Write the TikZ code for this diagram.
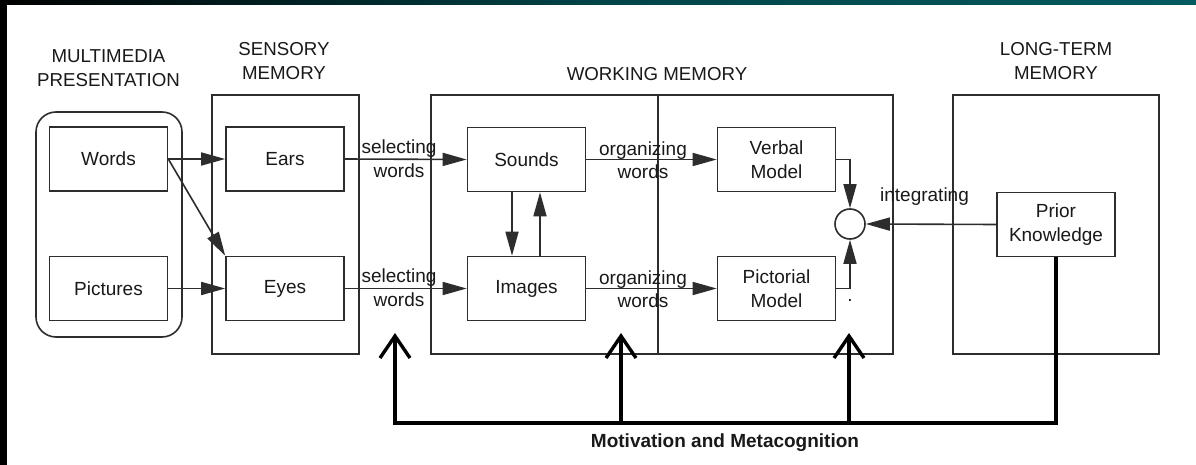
\documentclass[tikz,border=0pt]{standalone}
\usepackage{fontspec}
\setmainfont{Liberation Sans}
\usetikzlibrary{arrows.meta}
\definecolor{inkline}{RGB}{45,45,45}
\definecolor{inktext}{RGB}{25,25,25}
\definecolor{barteal}{RGB}{0,90,96}
\begin{document}
\begin{tikzpicture}[x=1pt,y=-1pt,
  every node/.style={text=inktext},
  boxtxt/.style={font=\fontsize{19}{23.5}\selectfont, align=center},
  head/.style={font=\fontsize{18.7}{24}\selectfont, align=center, inner sep=0},
  lbl/.style={font=\fontsize{19}{23.5}\selectfont, align=center, inner sep=0},
  box/.style={boxtxt, draw=inkline, line width=1.6pt, minimum width=118pt, minimum height=64pt, inner sep=0},
  frame/.style={draw=inkline, line width=1.6pt, inner sep=0},
  arr/.style={draw=inkline, line width=1.6pt, -{Triangle[length=24pt,width=13pt]}},
  fbline/.style={draw=black, line width=3.4pt, line join=miter},
  fbarr/.style={fbline, -{Straight Barb[length=22pt,width=30pt]}}
]
% canvas and slide edges
\fill[white] (0,0) rectangle (1196,465);
\useasboundingbox (0,0) rectangle (1196,465);
\shade[left color=black, right color=barteal, middle color=barteal!75!black] (0,0) rectangle (1196,5);
\fill[black] (0,0) rectangle (7,465);

% column headings
\node[head] (hmm)  at (108.5,68) {MULTIMEDIA\\PRESENTATION};
\node[head] (hsm)  at (284,61) {SENSORY\\MEMORY};
\node[head] (hwm)  at (657,74) {WORKING MEMORY};
\node[head] (hltm) at (1056,61) {LONG-TERM\\MEMORY};

% stores
\node[frame, rounded corners=20pt, minimum width=146pt, minimum height=225pt] (mmbox) at (109,224.5) {};
\node[frame, minimum width=147pt, minimum height=259pt] (smbox) at (285.5,224.5) {};
\node[frame, minimum width=462pt, minimum height=259pt] (wmbox) at (662,224.5) {};
\node[frame, minimum width=206pt, minimum height=259pt] (ltmbox) at (1056,224.5) {};
\draw[draw=inkline, line width=1.6pt] (wmbox.north -| 658,0) coordinate (wmtop) -- (wmbox.south -| 658,0) coordinate (wmbot);

% boxes
\node[box] (words)     at (108.5,159)   {Words};
\node[box] (pics)      at (108.5,288.5) {Pictures};
\node[box] (ears)      at (285,159)     {Ears};
\node[box] (eyes)      at (285,288.5)   {Eyes};
\node[box] (sounds)    at (526.5,159.5) {Sounds};
\node[box] (images)    at (526.5,288.5) {Images};
\node[box] (verbal)    at (776.5,159.5) {Verbal\\Model};
\node[box] (pictorial) at (776.5,288.5) {Pictorial\\Model};
\node[box] (prior)     at (1056,224.5)  {Prior\\Knowledge};
\node[circle, draw=inkline, line width=1.6pt, minimum size=30pt, inner sep=0] (join) at (850,224) {};

% sensory input
\draw[arr] (words.east) -- (ears.west);
\draw[arr] (words.east) -- (eyes.north west);
\draw[arr] (pics.east) -- (eyes.west);

% selecting and organizing
\draw[arr] (ears.east) -- (sounds.west);
\node[lbl] (sel1) at (399,158.5) {selecting\\words};
\draw[arr] (eyes.east) -- (images.west);
\node[lbl] (sel2) at (399,287.5) {selecting\\words};
\draw[arr] (sounds.east) -- (verbal.west);
\node[lbl] (org1) at (643,160) {organizing\\words};
\draw[arr] (images.east) -- (pictorial.west);
\node[lbl] (org2) at (643,289) {organizing\\words};

% exchange between sounds and images
\draw[arr] ([xshift=-14.5pt]sounds.south) -- ([xshift=-14.5pt]images.north);
\draw[arr] ([xshift=13.5pt]images.north) -- ([xshift=13.5pt]sounds.south);

% integrating
\draw[arr] (verbal.east) -| (join.north);
\draw[arr] (pictorial.east) -| (join.south);
\draw[arr] (prior.west) -- (join.east);
\node[lbl] (integ) at (924.5,197) {integrating};
\node[lbl] (dot) at (850,300) {.};

% motivation and metacognition feedback
\coordinate (pk)  at (1056,423);
\coordinate (c1)  at (395,423);
\coordinate (c2)  at (621,423);
\coordinate (c3)  at (849,423);
\coordinate (t1)  at (395,333);
\coordinate (t2)  at (621,333);
\coordinate (t3)  at (849,333);
\draw[fbarr] (prior.south) -- (pk) -- (c1) -- (t1);
\draw[fbarr] (c2) -- (t2);
\draw[fbarr] (c3) -- (t3);
\node[font=\bfseries\fontsize{19}{23}\selectfont, inner sep=0] (motiv) at (725,443) {Motivation and Metacognition};
\end{tikzpicture}
\end{document}
